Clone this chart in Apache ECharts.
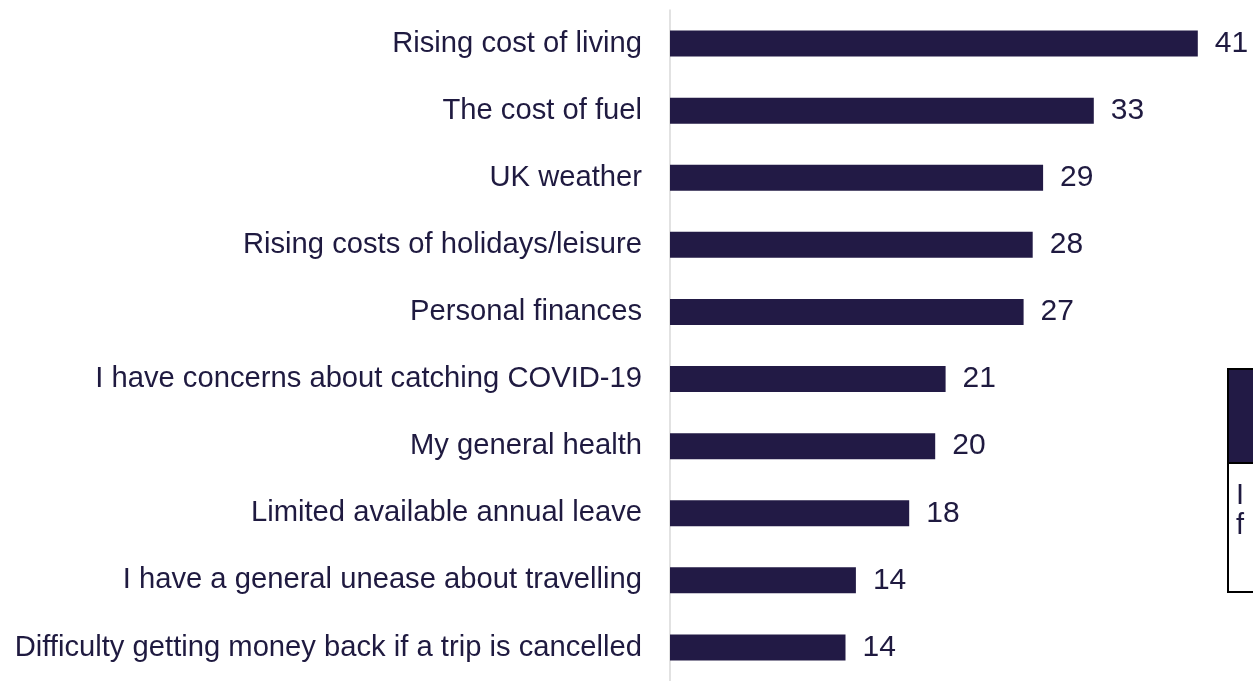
<!DOCTYPE html>
<html>
<head>
<meta charset="utf-8">
<script src="https://cdn.jsdelivr.net/npm/echarts@6/dist/echarts.min.js"></script>
<style>
html,body{margin:0;padding:0;background:#fff;}
#c{width:1253px;height:681px;}
</style>
</head>
<body>
<div id="c"></div>
<script>
const categories = [
  "Rising cost of living",
  "The cost of fuel",
  "UK weather",
  "Rising costs of holidays/leisure",
  "Personal finances",
  "I have concerns about catching COVID-19",
  "My general health",
  "Limited available annual leave",
  "I have a general unease about travelling",
  "Difficulty getting money back if a trip is cancelled"
];
const values = [40.6, 32.6, 28.7, 27.9, 27.2, 21.2, 20.4, 18.4, 14.3, 13.5];
const boxLines = ["I", "f"];

const navy = '#221a45';
const textCol = '#1f1a40';
const font = '"Liberation Sans", Arial, sans-serif';

const chart = echarts.init(document.getElementById('c'), null, {renderer: 'canvas'});
chart.setOption({
  animation: false,
  backgroundColor: '#ffffff',
  grid: {left: 670, top: 10, width: 572, height: 675.6, containLabel: false},
  xAxis: {
    type: 'value', min: 0, max: 44,
    show: false
  },
  yAxis: {
    type: 'category',
    data: categories,
    inverse: true,
    axisLine: {show: true, lineStyle: {color: '#d9d9d9', width: 1.5}},
    axisTick: {show: false},
    axisLabel: {color: textCol, fontSize: 29.2, fontFamily: font, margin: 28}
  },
  series: [{
    type: 'bar',
    data: values,
    barWidth: 26,
    itemStyle: {color: navy},
    label: {
      show: true, position: 'right', distance: 17,
      color: textCol, fontSize: 30, fontFamily: font,
      formatter: p => Math.round(p.value)
    }
  }],
  graphic: [
    {type: 'rect', shape: {x: 1228, y: 369, width: 40, height: 94},
     style: {fill: navy, stroke: '#000', lineWidth: 2}},
    {type: 'rect', shape: {x: 1228, y: 463, width: 40, height: 129},
     style: {fill: '#fff', stroke: '#000', lineWidth: 2}},
    {type: 'text', left: 1236, top: 481,
     style: {text: boxLines[0], fill: textCol, font: '29px ' + font}},
    {type: 'text', left: 1236, top: 511,
     style: {text: boxLines[1], fill: textCol, font: '29px ' + font}}
  ]
});
</script>
</body>
</html>
